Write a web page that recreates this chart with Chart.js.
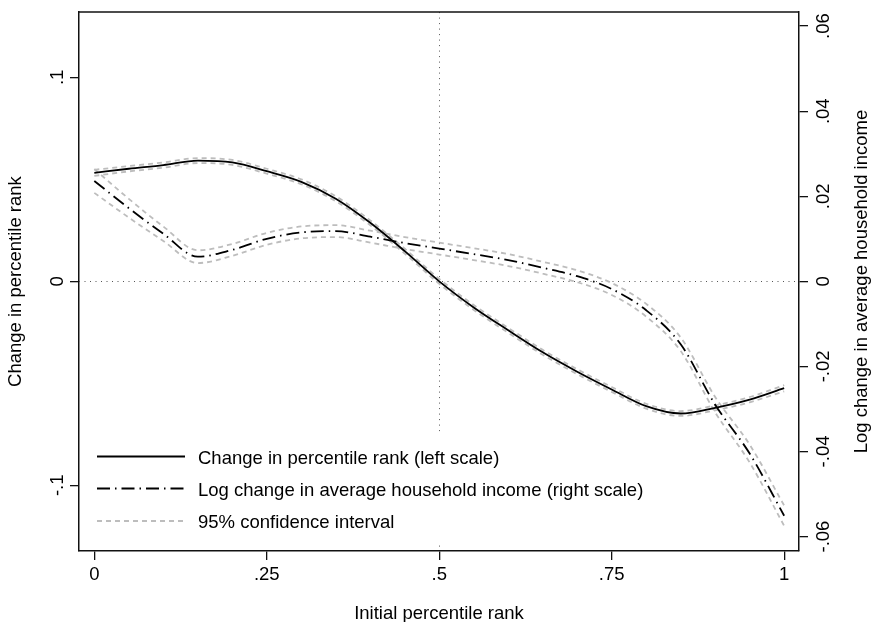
<!DOCTYPE html>
<html>
<head>
<meta charset="utf-8">
<script src="https://cdn.jsdelivr.net/npm/chart.js@4.4.1/dist/chart.umd.min.js"></script>
<style>
html,body{margin:0;padding:0;background:#fff;}
#wrap{width:872px;height:622px;}
</style>
</head>
<body>
<div id="wrap"><canvas id="c" width="872" height="622"></canvas></div>
<script>
// ---- data ----
const xValues      = [0, 0.05, 0.1, 0.15, 0.2, 0.25, 0.3, 0.35, 0.4, 0.45, 0.5, 0.55, 0.6, 0.65, 0.7, 0.75, 0.8, 0.85, 0.9, 0.95, 1];
const rankChange   = [0.0532, 0.0552, 0.0570, 0.0592, 0.0583, 0.0540, 0.0488, 0.0405, 0.0287, 0.0148, 0.0000, -0.0128, -0.0240, -0.0348, -0.0443, -0.0530, -0.0612, -0.0648, -0.0620, -0.0580, -0.0524];
const rankUpper    = [0.0547, 0.0565, 0.0583, 0.0604, 0.0595, 0.0552, 0.0500, 0.0417, 0.0299, 0.0160, 0.0012, -0.0116, -0.0228, -0.0336, -0.0431, -0.0518, -0.0600, -0.0636, -0.0608, -0.0567, -0.0509];
const rankLower    = [0.0517, 0.0539, 0.0557, 0.0580, 0.0571, 0.0528, 0.0476, 0.0393, 0.0275, 0.0136, -0.0012, -0.0140, -0.0252, -0.0360, -0.0455, -0.0542, -0.0624, -0.0660, -0.0632, -0.0593, -0.0539];
const incomeChange = [0.0236, 0.0172, 0.0112, 0.0058, 0.0074, 0.0100, 0.0115, 0.0118, 0.0105, 0.0090, 0.0077, 0.0064, 0.0050, 0.0032, 0.0012, -0.0018, -0.0068, -0.0148, -0.0290, -0.0405, -0.0551];
const incomeUpper  = [0.0264, 0.0194, 0.0129, 0.0073, 0.0088, 0.0114, 0.0129, 0.0132, 0.0119, 0.0104, 0.0091, 0.0078, 0.0064, 0.0046, 0.0026, -0.0004, -0.0053, -0.0132, -0.0272, -0.0384, -0.0527];
const incomeLower  = [0.0208, 0.0150, 0.0095, 0.0043, 0.0060, 0.0086, 0.0101, 0.0104, 0.0091, 0.0076, 0.0063, 0.0050, 0.0036, 0.0018, -0.0002, -0.0032, -0.0083, -0.0164, -0.0308, -0.0426, -0.0575];

const xTicks = [0, 0.25, 0.5, 0.75, 1];
const xTickLabels = ['0', '.25', '.5', '.75', '1'];
const leftTicks = [-0.1, 0, 0.1];
const leftTickLabels = ['-.1', '0', '.1'];
const rightTicks = [-0.06, -0.04, -0.02, 0, 0.02, 0.04, 0.06];
const rightTickLabels = ['-.06', '-.04', '-.02', '0', '.02', '.04', '.06'];

const legendLabels = [
  'Change in percentile rank (left scale)',
  'Log change in average household income (right scale)',
  '95% confidence interval'
];
const xTitle = 'Initial percentile rank';
const leftTitle = 'Change in percentile rank';
const rightTitle = 'Log change in average household income';
const refLineX = 0.5;
const refLineY = 0;

// ---- styles ----
const FONT = "'Liberation Sans', Arial, Helvetica, sans-serif";
const FSIZE = 18.5;
const solidStyle = {color: '#000000', width: 1.8, dash: []};
const dashDotStyle = {color: '#000000', width: 1.8, dash: [13, 5, 1.5, 5]};
const ciStyle = {color: '#bdbdbd', width: 1.8, dash: [5, 4]};

const pts = arr => xValues.map((x, i) => ({x: x, y: arr[i]}));

function mkDataset(label, arr, axis, st, order) {
  return {
    label: label, data: pts(arr), yAxisID: axis,
    borderColor: st.color, borderWidth: st.width, borderDash: st.dash,
    pointRadius: 0, fill: false, cubicInterpolationMode: 'monotone',
    order: order, borderCapStyle: 'butt'
  };
}

const datasets = [
  mkDataset(legendLabels[0], rankChange, 'y', solidStyle, 0),
  mkDataset(legendLabels[1], incomeChange, 'y2', dashDotStyle, 0),
  mkDataset(legendLabels[2], rankUpper, 'y', ciStyle, 1),
  mkDataset(legendLabels[2], rankLower, 'y', ciStyle, 1),
  mkDataset(legendLabels[2], incomeUpper, 'y2', ciStyle, 1),
  mkDataset(legendLabels[2], incomeLower, 'y2', ciStyle, 1)
];

const decor = {
  id: 'decor',
  beforeDatasetsDraw(chart) {
    const {ctx, chartArea: a, scales} = chart;
    ctx.save();
    ctx.strokeStyle = '#555';
    ctx.lineWidth = 1;
    ctx.setLineDash([1, 4.5]);
    const y0 = Math.round(scales.y.getPixelForValue(refLineY)) + 0.5;
    ctx.beginPath(); ctx.moveTo(a.left, y0); ctx.lineTo(a.right, y0); ctx.stroke();
    const x0 = Math.round(scales.x.getPixelForValue(refLineX)) + 0.5;
    ctx.beginPath(); ctx.moveTo(x0, a.top); ctx.lineTo(x0, a.bottom); ctx.stroke();
    ctx.restore();
  },
  afterDraw(chart) {
    const {ctx, chartArea: a} = chart;
    ctx.save();
    // top frame
    ctx.strokeStyle = '#111';
    ctx.lineWidth = 1.5;
    ctx.beginPath(); ctx.moveTo(a.left, a.top); ctx.lineTo(a.right, a.top); ctx.stroke();

    // legend
    ctx.fillStyle = '#fff';
    ctx.fillRect(81, 434, 610, 110);
    const styles = [solidStyle, dashDotStyle, ciStyle];
    const lineYs = [456.5, 488.5, 521];
    const textYs = [464, 496, 528];
    ctx.font = FSIZE + 'px ' + FONT;
    ctx.textAlign = 'left';
    ctx.textBaseline = 'alphabetic';
    for (let i = 0; i < 3; i++) {
      const st = styles[i];
      ctx.strokeStyle = st.color;
      ctx.lineWidth = st.width;
      ctx.setLineDash(st.dash);
      ctx.beginPath(); ctx.moveTo(97, lineYs[i]); ctx.lineTo(185, lineYs[i]); ctx.stroke();
      ctx.fillStyle = '#000';
      ctx.fillText(legendLabels[i], 198, textYs[i]);
    }
    ctx.setLineDash([]);

    // titles
    const midY = (a.top + a.bottom) / 2;
    const midX = (a.left + a.right) / 2;
    ctx.fillStyle = '#000';
    ctx.textAlign = 'center';
    ctx.fillText(xTitle, midX, 618.5);
    ctx.save(); ctx.translate(21, midY); ctx.rotate(-Math.PI / 2); ctx.fillText(leftTitle, 0, 0); ctx.restore();
    ctx.save(); ctx.translate(866.5, midY); ctx.rotate(-Math.PI / 2); ctx.fillText(rightTitle, 0, 0); ctx.restore();
    ctx.restore();
  }
};

const tickFont = {family: FONT, size: FSIZE};
const gridOpts = {drawOnChartArea: false, drawTicks: true, tickLength: 9, color: '#111', lineWidth: 1.3};
const borderOpts = {display: true, color: '#111', width: 1.5};

new Chart(document.getElementById('c'), {
  type: 'line',
  data: {datasets: datasets},
  options: {
    responsive: false, animation: false, devicePixelRatio: 1,
    layout: {padding: {top: 6, left: 0, right: 0, bottom: 0}},
    plugins: {legend: {display: false}, tooltip: {enabled: false}},
    scales: {
      x: {
        type: 'linear', position: 'bottom', min: -0.0222, max: 1.0215,
        afterBuildTicks: s => { s.ticks = xTicks.map(v => ({value: v})); },
        afterFit: s => { s.height = 71; },
        ticks: {font: tickFont, color: '#000', padding: 4, maxRotation: 0, autoSkip: false,
                callback: (v, i) => xTickLabels[i]},
        grid: gridOpts, border: borderOpts
      },
      y: {
        type: 'linear', position: 'left', min: -0.1322, max: 0.1320,
        afterBuildTicks: s => { s.ticks = leftTicks.map(v => ({value: v})); },
        afterFit: s => { s.width = 79; },
        ticks: {font: tickFont, color: '#000', padding: 1, minRotation: 90, maxRotation: 90,
                crossAlign: 'center', autoSkip: false, callback: (v, i) => leftTickLabels[i]},
        grid: gridOpts, border: borderOpts
      },
      y2: {
        type: 'linear', position: 'right', min: -0.0634, max: 0.0633,
        afterBuildTicks: s => { s.ticks = rightTicks.map(v => ({value: v})); },
        afterFit: s => { s.width = 73; },
        ticks: {font: tickFont, color: '#000', padding: 0, minRotation: 90, maxRotation: 90,
                crossAlign: 'center', autoSkip: false, callback: (v, i) => rightTickLabels[i]},
        grid: gridOpts, border: borderOpts
      }
    }
  },
  plugins: [decor]
});
</script>
</body>
</html>
